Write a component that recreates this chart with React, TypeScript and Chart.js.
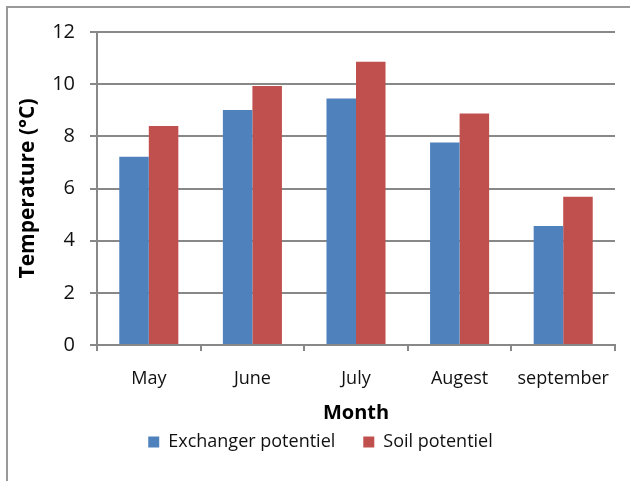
import React, { useEffect, useRef } from "react";
import { Chart, registerables } from "chart.js";

Chart.register(...registerables);

const months = ["May", "June", "July", "Augest", "september"];
const exchangerPotentiel = [7.22, 9.01, 9.45, 7.76, 4.56];
const soilPotentiel = [8.4, 9.93, 10.86, 8.88, 5.68];
const yTicks = [0, 2, 4, 6, 8, 10, 12];

const FONT = "'Open Sans', 'Liberation Sans', sans-serif";
const GRID = "#888888";

const legendShift = {
  id: "legendShift",
  afterLayout(chart: any) {
    if (chart.legend) {
      chart.legend.left += 9;
      chart.legend.right += 9;
    }
  },
};

export default function App() {
  const ref = useRef<HTMLCanvasElement | null>(null);

  useEffect(() => {
    if (!ref.current) return;
    const chart = new Chart(ref.current, {
      type: "bar",
      data: {
        labels: months,
        datasets: [
          {
            label: "Exchanger potentiel",
            data: exchangerPotentiel,
            backgroundColor: "#4F81BD",
            borderWidth: 0,
            categoryPercentage: 0.57,
            barPercentage: 1,
          },
          {
            label: "Soil potentiel",
            data: soilPotentiel,
            backgroundColor: "#C0504D",
            borderWidth: 0,
            categoryPercentage: 0.57,
            barPercentage: 1,
          },
        ],
      },
      plugins: [legendShift],
      options: {
        responsive: false,
        animation: false,
        layout: { padding: { left: 8, top: 32, right: 15, bottom: 20 } },
        plugins: {
          tooltip: { enabled: false },
          legend: {
            position: "bottom",
            labels: {
              boxWidth: 11,
              boxHeight: 11,
              padding: 28,
              color: "#111",
              font: { family: FONT, size: 18 },
            },
          },
        },
        scales: {
          x: {
            grid: {
              offset: true,
              drawOnChartArea: false,
              drawTicks: true,
              tickLength: 6,
              color: GRID,
              lineWidth: 2,
            },
            border: { color: GRID, width: 2 },
            ticks: {
              color: "#111",
              padding: 17,
              font: { family: FONT, size: 18 },
              maxRotation: 0,
            },
            title: {
              display: true,
              text: "Month",
              color: "#000",
              font: { family: FONT, size: 20, weight: "bold" },
              padding: { top: 0, bottom: -20 },
            },
            afterFit: (s: any) => {
              s.height = 60;
            },
          },
          y: {
            min: 0,
            max: 12,
            afterBuildTicks: (s: any) => {
              s.ticks = yTicks.map((v) => ({ value: v }));
            },
            grid: {
              color: GRID,
              lineWidth: 2,
              tickLength: 7,
            },
            border: { color: GRID, width: 2 },
            ticks: {
              color: "#111",
              padding: 15,
              font: { family: FONT, size: 20 },
            },
            title: {
              display: true,
              text: "Temperature (°C)",
              color: "#000",
              font: { family: FONT, size: 21, weight: "bold" },
              padding: { top: 7, bottom: 0 },
            },
            afterFit: (s: any) => {
              s.width = 89;
            },
          },
        },
      },
    });
    return () => chart.destroy();
  }, []);

  return (
    <div style={{ position: "absolute", left: 0, top: 0, width: 630, height: 481, background: "#fff" }}>
      <div
        style={{
          position: "absolute",
          left: 6,
          top: 6,
          right: 0,
          bottom: 0,
          borderLeft: "2px solid #999",
          borderTop: "2px solid #999",
        }}
      />
      <canvas ref={ref} width={630} height={481} style={{ position: "absolute", left: 0, top: 0 }} />
    </div>
  );
}
